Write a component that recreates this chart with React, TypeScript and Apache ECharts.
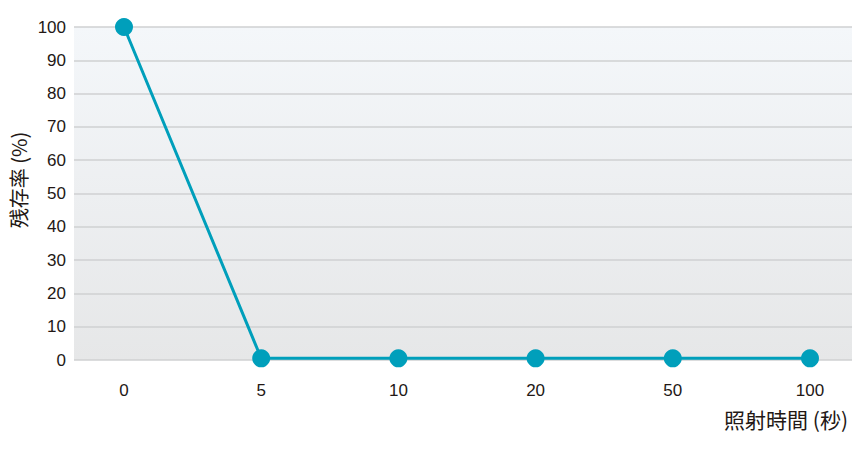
import React, { useEffect, useRef } from "react";
import * as echarts from "echarts";

const categories = ["0", "5", "10", "20", "50", "100"];
const survival = [100, 0.5, 0.5, 0.5, 0.5, 0.5];
const yTicks = [0, 10, 20, 30, 40, 50, 60, 70, 80, 90, 100];
const yName = "残存率 (%)";
const xName = "照射時間 (秒)";

export default function App() {
  const ref = useRef<HTMLDivElement>(null);
  useEffect(() => {
    if (!ref.current) return;
    const chart = echarts.init(ref.current, undefined, { renderer: "svg" });
    const font = "'Liberation Sans', Arial, sans-serif";
    const cjk = "'Noto Sans CJK JP', sans-serif";
    chart.setOption({
      animation: false,
      backgroundColor: "#ffffff",
      grid: [
        {
          left: 74, right: 2, top: 27, bottom: 90,
          show: true,
          borderWidth: 0,
          backgroundColor: new echarts.graphic.LinearGradient(0, 0, 0, 1, [
            { offset: 0, color: "#f4f7fa" },
            { offset: 1, color: "#e6e7e8" },
          ]),
        },
        { left: 124, right: 44, top: 27, bottom: 90 },
      ],
      xAxis: [
        { gridIndex: 0, type: "value", show: false, min: 0, max: 1 },
        {
          gridIndex: 1,
          type: "category",
          data: categories,
          boundaryGap: false,
          axisLine: { show: false },
          axisTick: { show: false },
          axisLabel: { color: "#231815", fontSize: 17, fontFamily: font, margin: 22 },
        },
      ],
      yAxis: [
        {
          gridIndex: 0,
          type: "value",
          min: yTicks[0],
          max: yTicks[yTicks.length - 1],
          interval: 10,
          axisLine: { show: false },
          axisTick: { show: false },
          axisLabel: { color: "#231815", fontSize: 17, fontFamily: font, margin: 8 },
          splitLine: { show: true, lineStyle: { color: "#cfd0d2", width: 1.5 } },
        },
        {
          gridIndex: 1,
          type: "value",
          min: 0,
          max: 100,
          show: false,
          splitLine: { show: false },
        },
      ],
      series: [
        {
          type: "line",
          xAxisIndex: 1,
          yAxisIndex: 1,
          data: survival,
          symbol: "circle",
          symbolSize: 18,
          lineStyle: { color: "#009fbb", width: 3 },
          itemStyle: { color: "#009fbb" },
        },
      ],
      graphic: [
        {
          type: "text",
          x: 18,
          y: 180,
          rotation: Math.PI / 2,
          style: {
            text: yName,
            fontSize: 20,
            fontFamily: cjk,
            fill: "#231815",
            align: "center",
            verticalAlign: "middle",
          },
        },
        {
          type: "text",
          x: 848,
          y: 419,
          style: {
            text: xName,
            fontSize: 21,
            fontFamily: cjk,
            fill: "#231815",
            align: "right",
            verticalAlign: "middle",
          },
        },
      ],
    });
    return () => chart.dispose();
  }, []);
  return <div ref={ref} style={{ width: 854, height: 450, position: "absolute", left: 0, top: 0 }} />;
}
